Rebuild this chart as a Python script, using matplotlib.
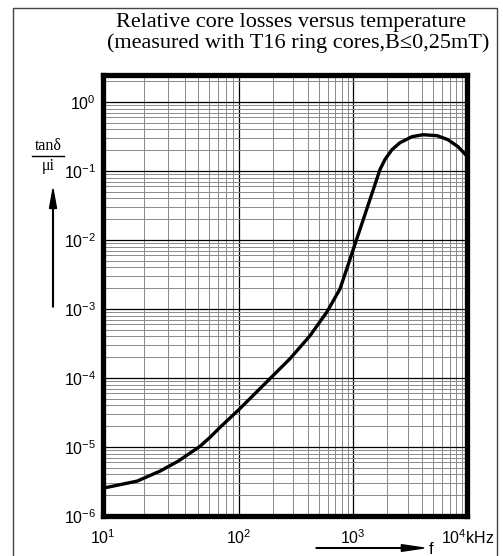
import numpy as np
import matplotlib
matplotlib.use("Agg")
import matplotlib.pyplot as plt
from matplotlib.patches import Rectangle, FancyArrow
from matplotlib.ticker import LogLocator, NullFormatter

# Data (frequency in kHz, tan(delta)/mu_i)
freq_khz = [10, 17.8, 26.2, 35.6, 51.6, 61.2, 72.4, 100, 176, 280, 419, 591, 769,
            904, 1000, 1325, 1720, 1901, 2191, 2572, 3273, 4083, 5415, 6756,
            8263, 10000]
loss_factor = [2.53e-6, 3.2e-6, 4.46e-6, 6.21e-6, 1.02e-5, 1.38e-5, 1.92e-5,
               3.49e-5, 8.85e-5, 1.9e-4, 4.08e-4, 9.06e-4, 1.95e-3, 4.31e-3,
               7.1e-3, 2.86e-2, 0.1045, 0.146, 0.203, 0.256, 0.313, 0.334,
               0.324, 0.283, 0.224, 0.161]

x_ticks = [1e1, 1e2, 1e3, 1e4]
x_tick_labels = [r"$\mathregular{10^1}$", r"$\mathregular{10^2}$",
                 r"$\mathregular{10^3}$", r"$\mathregular{10^4}$kHz"]
y_ticks = [1e-6, 1e-5, 1e-4, 1e-3, 1e-2, 1e-1, 1e0]
y_tick_labels = [r"$\mathregular{10^{-%d}}$" % k for k in range(6, 0, -1)] + [r"$\mathregular{10^0}$"]


# the printed frequency axis has a wider first decade than the other two
def fwd(x):
    lx = np.log10(np.clip(x, 1e-300, None))
    return np.where(lx < 2, (lx - 1) * 136,
                    np.where(lx < 3, 136 + (lx - 2) * 114, 250 + (lx - 3) * 114.5))


def inv(p):
    lx = np.where(p < 136, 1 + p / 136,
                  np.where(p < 250, 2 + (p - 136) / 114, 3 + (p - 250) / 114.5))
    return 10 ** lx


plt.rcParams["mathtext.fontset"] = "custom"
plt.rcParams["mathtext.rm"] = "Liberation Sans"
plt.rcParams["font.family"] = ["Liberation Sans", "DejaVu Sans"]

W, H = 503, 556
fig = plt.figure(figsize=(W / 100, H / 100), dpi=100)

# outer frame
fig.patches.append(Rectangle((13 / W, -0.05), (497 - 13) / W, 1.05 - 8 / H,
                             transform=fig.transFigure, fill=False,
                             edgecolor="#444444", lw=1.0))

ax = fig.add_axes([103 / W, 1 - 516 / H, (467.5 - 103) / W, (516 - 75) / H])
ax.set_xscale("function", functions=(fwd, inv))
ax.set_yscale("log")
ax.set_xlim(10, 1e4)
ax.set_ylim(1e-6, 2.45)

ax.xaxis.set_minor_locator(LogLocator(base=10, subs=np.arange(2, 10)))
ax.xaxis.set_minor_formatter(NullFormatter())

ax.grid(True, which="major", color="black", lw=0.9)
ax.grid(True, which="minor", color="#8a8a8a", lw=0.7)
ax.set_axisbelow(True)

ax.plot(freq_khz, loss_factor, color="black", lw=2.4, solid_capstyle="round",
        solid_joinstyle="round", zorder=5)

for s in ax.spines.values():
    s.set_linewidth(3.8)
    s.set_zorder(6)

ax.set_xticks(x_ticks)
ax.set_xticklabels(x_tick_labels, fontsize=11.5)
ax.set_yticks(y_ticks)
ax.set_yticklabels(y_tick_labels, fontsize=11.5)
ax.tick_params(which="both", length=0, pad=5)
ax.tick_params(axis="x", pad=9)

# title
fig.text(291 / W, 1 - 22 / H, "Relative core losses versus temperature",
         ha="center", va="center", fontsize=16, family="Liberation Serif")
fig.text(298 / W, 1 - 43 / H, "(measured with T16 ring cores,B\u22640,25mT)",
         ha="center", va="center", fontsize=16,
         family=["Liberation Serif", "DejaVu Serif"])

# y axis quantity with arrow
fig.text(48 / W, 1 - 146 / H, "tan\u03b4", ha="center", va="center",
         fontsize=11.5, family="Liberation Serif")
fig.lines.append(plt.Line2D([32 / W, 64 / W], [1 - 156 / H, 1 - 156 / H],
                            transform=fig.transFigure, color="black", lw=1.0))
fig.text(48 / W, 1 - 166 / H, "\u03bci", ha="center", va="center",
         fontsize=11.5, family="Liberation Serif")
fig.patches.append(FancyArrow(53 / W, 1 - 307 / H, 0, (307 - 189) / H,
                              width=0.0015, head_width=0.014, head_length=0.035,
                              length_includes_head=True, color="black",
                              transform=fig.transFigure))

# x axis quantity with arrow
fig.patches.append(FancyArrow(316 / W, 1 - 548 / H, (424 - 316) / W, 0,
                              width=0.0012, head_width=0.012, head_length=0.045,
                              length_includes_head=True, color="black",
                              transform=fig.transFigure))
fig.text(431 / W, 1 - 549 / H, "f", ha="center", va="center", fontsize=12)

fig.savefig("out.png", dpi=100)
